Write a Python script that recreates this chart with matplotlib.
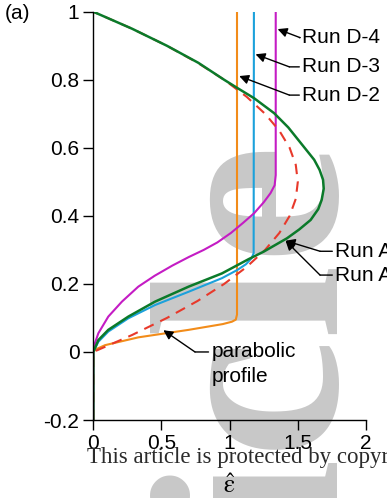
import matplotlib
matplotlib.use('Agg')
import matplotlib.pyplot as plt

# height z (y axis) and eps-hat (x axis)
z_parab = [-0.2, 0.0, 0.05, 0.1, 0.15, 0.2, 0.25, 0.3, 0.35, 0.4, 0.45, 0.5,
           0.55, 0.6, 0.65, 0.7, 0.75, 0.8, 0.85, 0.9, 0.95, 1.0]
e_parab = [0.0, 0.0, 0.285, 0.54, 0.765, 0.96, 1.125, 1.26, 1.365, 1.44, 1.485, 1.5,
           1.485, 1.44, 1.365, 1.26, 1.125, 0.96, 0.765, 0.54, 0.285, 0.0]

z_runA = [-0.2, 0.0, 0.035, 0.065, 0.104, 0.148, 0.192, 0.231, 0.273, 0.295, 0.334,
          0.36, 0.388, 0.42, 0.447, 0.48, 0.506, 0.535, 0.565, 0.614, 0.66, 0.702,
          0.746, 0.776, 0.8, 0.85, 0.9, 0.95, 1.0]
e_runA = [0.0, 0.0, 0.037, 0.11, 0.257, 0.453, 0.699, 0.944, 1.14, 1.25, 1.42,
          1.51, 1.594, 1.65, 1.675, 1.69, 1.685, 1.66, 1.62, 1.522, 1.43, 1.326,
          1.179, 1.056, 0.96, 0.77, 0.54, 0.285, 0.0]

z_D2 = [-0.2, 0.0, 0.008, 0.02, 0.043, 0.065, 0.082, 0.089, 0.095, 0.11, 1.0]
e_D2 = [0.0, 0.0, 0.02, 0.086, 0.331, 0.699, 0.95, 1.017, 1.045, 1.054, 1.054]

z_D3 = [-0.2, 0.0, 0.03, 0.06, 0.099, 0.138, 0.177, 0.217, 0.241, 0.258, 0.275, 0.29, 1.0]
e_D3 = [0.0, 0.0, 0.037, 0.11, 0.257, 0.453, 0.699, 0.944, 1.056, 1.12, 1.16, 1.176, 1.178]

z_D4 = [-0.2, 0.0, 0.02, 0.055, 0.104, 0.148, 0.192, 0.224, 0.254, 0.279, 0.30, 0.322,
        0.35, 0.38, 0.408, 0.44, 0.467, 0.49, 0.52, 1.0]
e_D4 = [0.0, 0.0, 0.007, 0.037, 0.11, 0.21, 0.33, 0.45, 0.58, 0.70, 0.81, 0.91,
        1.01, 1.10, 1.18, 1.25, 1.30, 1.33, 1.338, 1.338]

x_ticks = [0, 0.5, 1, 1.5, 2]
x_ticklabels = ['0', '0.5', '1', '1.5', '2']
y_ticks = [-0.2, 0, 0.2, 0.4, 0.6, 0.8, 1]
y_ticklabels = ['-0.2', '0', '0.2', '0.4', '0.6', '0.8', '1']

plt.rcParams['font.family'] = ['Liberation Sans', 'DejaVu Sans']
plt.rcParams['mathtext.fontset'] = 'stix'

fig = plt.figure(figsize=(3.87, 4.98), dpi=100)
ax = fig.add_axes([0.2411, 0.1566, 0.7046, 0.8198])
ax.patch.set_alpha(0)

# journal watermark behind the plot
fig.text(0.873, 0.711, 'Accepted Article', rotation=90, rotation_mode='anchor',
         ha='right', va='baseline', fontsize=194, fontweight='bold',
         family='Liberation Serif', color='#c8c8c8', zorder=-1)

ax.plot(e_D2, z_D2, color='#f28c1a', lw=1.5)
ax.plot(e_D3, z_D3, color='#1ba1db', lw=1.5)
ax.plot(e_D4, z_D4, color='#c41cc4', lw=1.5)
ax.plot(e_parab, z_parab, color='#e8392b', lw=1.5, dashes=(5, 3.5))
ax.plot(e_runA, z_runA, color='#0b7a2a', lw=1.8)

ax.set_xlim(0, 2)
ax.set_ylim(-0.2, 1)
ax.set_xticks(x_ticks, x_ticklabels)
ax.set_yticks(y_ticks, y_ticklabels)
for s in ['top', 'right']:
    ax.spines[s].set_visible(False)
for s in ['left', 'bottom']:
    ax.spines[s].set_linewidth(1.0)
ax.tick_params(direction='out', length=7, width=1.0, labelsize=15, pad=3)
ax.set_xlabel(r'$\hat{\mathrm{\varepsilon}}$', fontsize=18, labelpad=15)

arrow = dict(arrowstyle='-|>', color='black', lw=1.0, shrinkA=0, shrinkB=0,
             mutation_scale=14)
plain = dict(arrowstyle='-', color='black', lw=1.0, shrinkA=0, shrinkB=0)

# (label, text y, elbow, tip)
notes = [
    ('Run D-4', 0.924, (1.516, 0.924), (1.352, 0.949)),
    ('Run D-3', 0.838, (1.438, 0.838), (1.19, 0.875)),
    ('Run D-2', 0.755, (1.438, 0.755), (1.07, 0.811)),
    ('Run A-1', 0.296, (1.663, 0.296), (1.41, 0.327)),
    ('Run A-2', 0.226, (1.663, 0.226), (1.41, 0.327)),
]
for label, ty, elbow, tip in notes:
    tx = 1.531 if label.startswith('Run D') else 1.773
    ax.annotate('', xy=elbow, xytext=(tx - 0.02, ty), arrowprops=plain,
                annotation_clip=False)
    ax.annotate('', xy=tip, xytext=elbow, arrowprops=arrow, annotation_clip=False)
    ax.text(tx, ty, label, fontsize=15, ha='left', va='center', clip_on=False)

ax.annotate('', xy=(0.746, 0.0), xytext=(0.845, 0.0), arrowprops=plain)
ax.annotate('', xy=(0.514, 0.064), xytext=(0.746, 0.0), arrowprops=arrow)
ax.text(0.869, 0.0, 'parabolic', fontsize=15, ha='left', va='center')
ax.text(0.869, -0.072, 'profile', fontsize=15, ha='left', va='center')

fig.text(0.012, 0.972, '(a)', fontsize=15, ha='left', va='center')
fig.text(0.225, 0.0703, 'This article is protected by copyright. All rights reserved.',
         family='Liberation Serif', fontsize=16.5, color='#2b2b2b',
         ha='left', va='baseline', zorder=10)

fig.savefig('out.png', dpi=100)
